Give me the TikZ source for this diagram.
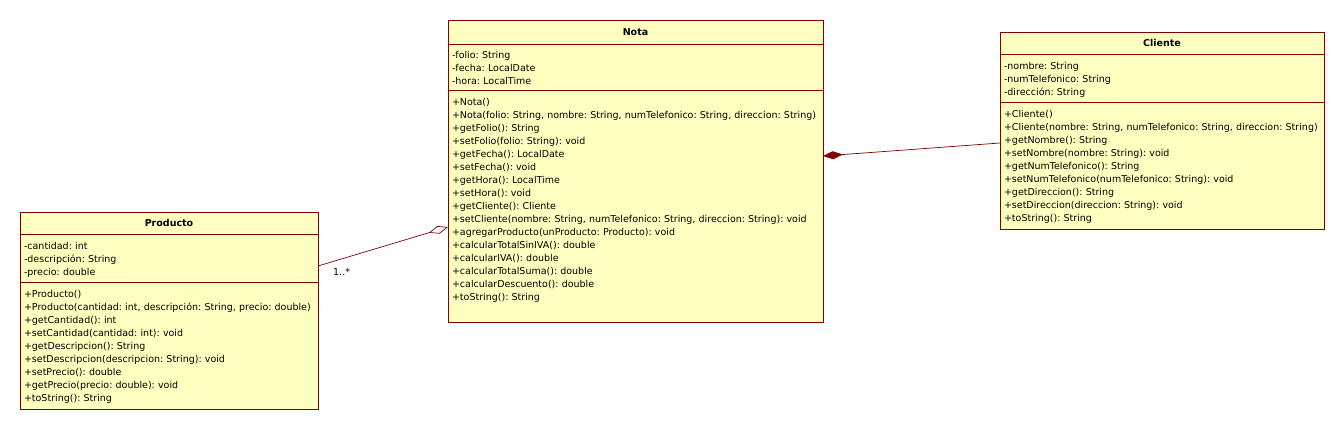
\documentclass[tikz,border=0pt]{standalone}
\usepackage{fontspec}
\setmainfont{DejaVu Sans}
\usetikzlibrary{arrows.meta,positioning}
\definecolor{umlfill}{RGB}{255,255,192}
\definecolor{umlline}{RGB}{128,0,0}
\frenchspacing

\begin{document}
\begin{tikzpicture}[x=1pt, y=-1pt,
  every node/.style={font=\fontsize{9.5}{13}\selectfont},
  classname/.style={draw=umlline, fill=umlfill, line width=0.7pt, inner sep=0pt, outer sep=0pt, anchor=north west, font=\fontsize{9.5}{13}\selectfont\bfseries},
  part/.style={draw=umlline, fill=umlfill, line width=0.7pt, align=left, inner xsep=4pt, inner ysep=0pt, outer sep=0pt, text height=16pt, anchor=north west},
  link/.style={draw=umlline, line width=0.7pt}]
\fill[white] (0,0) rectangle (1344,430);

% Nota
\node[classname, minimum width=375pt, minimum height=24pt] (nota) at (448,20) {Nota};
\node[part, text width=367pt, text height=15pt, text depth=31pt] (nota-attr) at (nota.south west) {-folio: String\\-fecha: LocalDate\\-hora: LocalTime};
\node[part, text width=367pt, text depth=216pt] (nota-ops) at (nota-attr.south west) {+Nota()\\+Nota(folio: String, nombre: String, numTelefonico: String, direccion: String)\\+getFolio(): String\\+setFolio(folio: String): void\\+getFecha(): LocalDate\\+setFecha(): void\\+getHora(): LocalTime\\+setHora(): void\\+getCliente(): Cliente\\+setCliente(nombre: String, numTelefonico: String, direccion: String): void\\+agregarProducto(unProducto: Producto): void\\+calcularTotalSinIVA(): double\\+calcularIVA(): double\\+calcularTotalSuma(): double\\+calcularDescuento(): double\\+toString(): String};

% Producto
\node[classname, minimum width=298pt, minimum height=22pt] (producto) at (20,212) {Producto};
\node[part, text width=290pt, text depth=32pt] (producto-attr) at (producto.south west) {-cantidad: int\\-descripción: String\\-precio: double};
\node[part, text width=290pt, text depth=111pt] (producto-ops) at (producto-attr.south west) {+Producto()\\+Producto(cantidad: int, descripción: String, precio: double)\\+getCantidad(): int\\+setCantidad(cantidad: int): void\\+getDescripcion(): String\\+setDescripcion(descripcion: String): void\\+setPrecio(): double\\+getPrecio(precio: double): void\\+toString(): String};

% Cliente
\node[classname, minimum width=324pt, minimum height=22pt] (cliente) at (1000,32) {Cliente};
\node[part, text width=316pt, text depth=32pt] (cliente-attr) at (cliente.south west) {-nombre: String\\-numTelefonico: String\\-dirección: String};
\node[part, text width=316pt, text depth=111pt] (cliente-ops) at (cliente-attr.south west) {+Cliente()\\+Cliente(nombre: String, numTelefonico: String, direccion: String)\\+getNombre(): String\\+setNombre(nombre: String): void\\+getNumTelefonico(): String\\+setNumTelefonico(numTelefonico: String): void\\+getDireccion(): String\\+setDireccion(direccion: String): void\\+toString(): String};

% relaciones
\draw[link, -{Diamond[open, length=20pt, width=8pt]}] ([yshift=-8pt]producto-attr.east) -- ([yshift=-21pt]nota-ops.west);
\node[anchor=north west, inner sep=0pt] (mult) at ([xshift=15pt, yshift=-10pt]producto-attr.east) {1..*};
\draw[link, -{Diamond[length=20pt, width=8pt]}] ([yshift=22.5pt]cliente-ops.west) -- ([yshift=50pt]nota-ops.east);
\end{tikzpicture}
\end{document}
